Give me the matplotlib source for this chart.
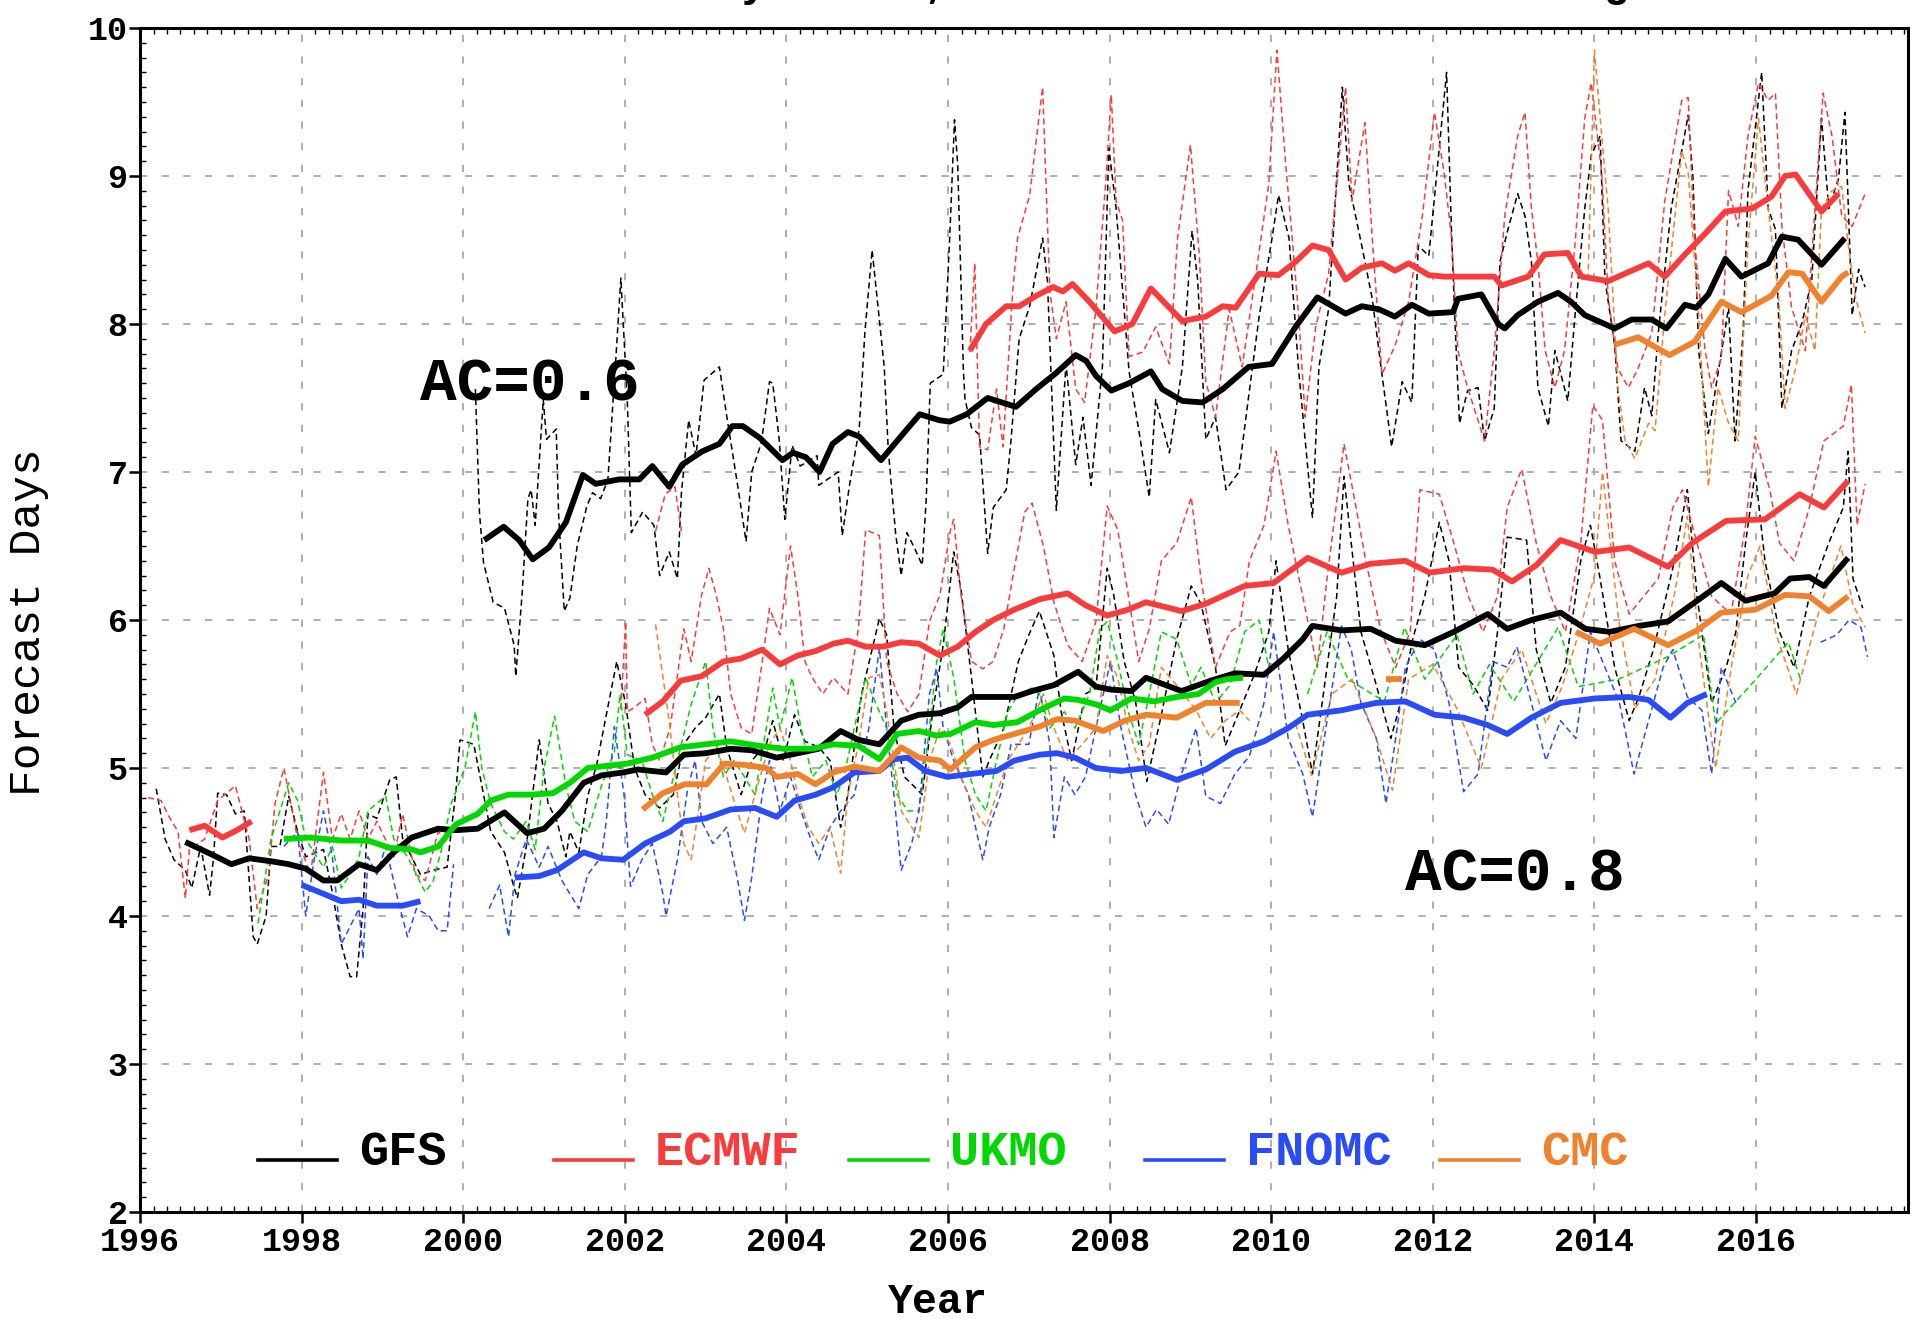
import matplotlib
matplotlib.use("Agg")
import matplotlib.pyplot as plt
from matplotlib.ticker import MultipleLocator

plt.rcParams["font.family"] = ["Liberation Mono", "DejaVu Sans"]

# ---- colours ----
C_GFS = "black"
C_EC = "#f83c3c"
C_UK = "#00d800"
C_FN = "#2a4cf8"
C_CMC = "#f0822d"

# ---- AC = 0.6, monthly (thin dashed) ----
gfs6_m = [(2000.15, 7.56), (2000.20, 6.73), (2000.25, 6.39), (2000.37, 6.12), (2000.51, 6.08), (2000.63, 5.83),
          (2000.65, 5.62), (2000.73, 6.19), (2000.80, 6.82), (2000.84, 6.88), (2000.89, 6.64), (2000.99, 7.49),
          (2001.03, 7.22), (2001.15, 7.29), (2001.18, 6.71), (2001.25, 6.06), (2001.32, 6.15), (2001.41, 6.50),
          (2001.53, 6.77), (2001.60, 6.86), (2001.70, 6.82), (2001.79, 6.95), (2001.89, 7.78), (2001.95, 8.31),
          (2002.03, 7.49), (2002.08, 6.59), (2002.22, 6.73), (2002.36, 6.64), (2002.43, 6.30), (2002.55, 6.46),
          (2002.65, 6.28), (2002.70, 6.86), (2002.79, 7.35), (2002.88, 7.11), (2002.98, 7.62), (2003.17, 7.71),
          (2003.26, 7.38), (2003.41, 6.86), (2003.50, 6.53), (2003.57, 7.00), (2003.69, 7.20), (2003.79, 7.61),
          (2003.83, 7.60), (2003.91, 7.22), (2003.98, 6.68), (2004.07, 7.18), (2004.17, 7.04), (2004.38, 7.11),
          (2004.40, 6.91), (2004.64, 7.00), (2004.69, 6.57), (2004.78, 6.91), (2004.90, 7.29), (2004.97, 7.94),
          (2005.06, 8.50), (2005.21, 7.71), (2005.26, 7.15), (2005.35, 6.59), (2005.42, 6.30), (2005.49, 6.59),
          (2005.59, 6.48), (2005.68, 6.37), (2005.73, 6.82), (2005.78, 7.60), (2005.94, 7.66), (2006.02, 8.58),
          (2006.08, 9.38), (2006.12, 9.07), (2006.19, 7.68), (2006.21, 7.49), (2006.29, 7.30), (2006.39, 7.25),
          (2006.49, 6.45), (2006.56, 6.76), (2006.72, 6.88), (2006.78, 7.22), (2006.88, 7.90), (2007.01, 8.12),
          (2007.17, 8.58), (2007.23, 8.29), (2007.34, 6.74), (2007.46, 7.73), (2007.58, 7.05), (2007.67, 7.37),
          (2007.77, 6.91), (2007.91, 7.71), (2007.99, 9.19), (2008.08, 8.78), (2008.24, 7.68), (2008.37, 7.25),
          (2008.49, 6.83), (2008.57, 7.49), (2008.74, 7.13), (2008.90, 7.71), (2009.02, 8.63), (2009.09, 8.29),
          (2009.19, 7.22), (2009.31, 7.37), (2009.44, 6.88), (2009.60, 7.00), (2009.72, 7.51), (2009.85, 8.05),
          (2010.01, 8.58), (2010.09, 8.87), (2010.22, 8.58), (2010.34, 7.68), (2010.51, 6.69), (2010.59, 7.71),
          (2010.71, 8.10), (2010.88, 9.60), (2010.96, 8.95), (2011.12, 8.53), (2011.25, 8.17), (2011.37, 7.66),
          (2011.49, 7.17), (2011.62, 7.61), (2011.74, 7.47), (2011.82, 8.53), (2011.95, 8.46), (2012.17, 9.70),
          (2012.23, 8.64), (2012.27, 8.06), (2012.33, 7.33), (2012.43, 7.55), (2012.56, 7.57), (2012.64, 7.21),
          (2012.76, 7.43), (2012.83, 8.42), (2012.93, 8.64), (2013.05, 8.88), (2013.14, 8.73), (2013.22, 8.42),
          (2013.30, 7.57), (2013.43, 7.31), (2013.51, 7.82), (2013.67, 7.48), (2013.76, 8.06), (2013.88, 8.78),
          (2013.96, 9.14), (2014.07, 9.27), (2014.13, 8.30), (2014.25, 7.86), (2014.33, 7.21), (2014.50, 7.14),
          (2014.62, 7.57), (2014.71, 7.38), (2014.79, 7.94), (2014.95, 8.78), (2015.16, 9.41), (2015.22, 8.98),
          (2015.29, 7.82), (2015.41, 7.26), (2015.53, 7.67), (2015.66, 8.11), (2015.74, 7.21), (2015.84, 7.94),
          (2015.90, 8.90), (2016.07, 9.70), (2016.15, 8.78), (2016.24, 8.64), (2016.32, 7.43), (2016.44, 7.82),
          (2016.57, 8.01), (2016.69, 8.30), (2016.81, 9.39), (2016.90, 8.78), (2017.02, 8.98), (2017.10, 9.43),
          (2017.19, 8.06), (2017.27, 8.37), (2017.35, 8.25)]

ec6_m_early = [(2002.38, 6.60), (2002.50, 6.85), (2002.62, 6.90), (2002.70, 6.60)]

ec6_m = [(2006.27, 7.81), (2006.33, 8.41), (2006.39, 7.17), (2006.49, 7.15), (2006.60, 7.56), (2006.68, 7.17),
         (2006.80, 8.22), (2006.86, 8.58), (2007.01, 8.87), (2007.17, 9.60), (2007.26, 8.22), (2007.34, 7.90),
         (2007.46, 8.15), (2007.58, 7.56), (2007.69, 7.47), (2007.83, 8.10), (2007.95, 8.95), (2008.02, 9.55),
         (2008.08, 8.83), (2008.16, 8.70), (2008.24, 7.78), (2008.41, 7.81), (2008.57, 7.98), (2008.74, 7.73),
         (2008.84, 8.58), (2009.00, 9.21), (2009.11, 8.46), (2009.19, 7.61), (2009.31, 7.37), (2009.48, 8.10),
         (2009.64, 7.71), (2009.81, 8.34), (2009.97, 8.95), (2010.07, 9.85), (2010.18, 9.07), (2010.26, 8.58),
         (2010.34, 8.05), (2010.42, 7.37), (2010.55, 7.98), (2010.71, 8.34), (2010.92, 9.60), (2011.00, 8.83),
         (2011.16, 9.36), (2011.25, 8.58), (2011.37, 7.66), (2011.53, 7.85), (2011.70, 8.15), (2011.87, 8.73),
         (2012.02, 9.43), (2012.14, 9.02), (2012.23, 8.59), (2012.31, 7.82), (2012.43, 7.57), (2012.64, 7.21),
         (2012.76, 7.82), (2012.89, 8.73), (2013.05, 9.27), (2013.14, 9.43), (2013.22, 8.78), (2013.30, 8.42),
         (2013.39, 7.82), (2013.51, 7.57), (2013.63, 7.82), (2013.76, 8.54), (2013.88, 9.39), (2013.96, 9.63),
         (2014.09, 9.02), (2014.17, 8.18), (2014.29, 7.70), (2014.42, 7.57), (2014.54, 7.70), (2014.71, 7.94),
         (2014.87, 8.83), (2015.08, 9.51), (2015.16, 9.53), (2015.24, 8.54), (2015.37, 7.82), (2015.45, 7.57),
         (2015.57, 7.77), (2015.66, 8.90), (2015.78, 8.66), (2015.90, 9.27), (2016.03, 9.63), (2016.15, 9.51),
         (2016.24, 9.56), (2016.32, 8.66), (2016.44, 8.11), (2016.61, 7.82), (2016.73, 8.78), (2016.83, 9.56),
         (2016.94, 9.27), (2017.06, 8.73), (2017.19, 8.66), (2017.35, 8.88)]

cmc6_m = [(2013.92, 8.30), (2014.00, 9.85), (2014.09, 9.27), (2014.17, 8.78), (2014.29, 7.57), (2014.38, 7.21),
          (2014.50, 7.09), (2014.67, 7.33), (2014.75, 7.28), (2014.87, 8.06), (2015.08, 9.17), (2015.16, 9.02),
          (2015.29, 8.06), (2015.41, 6.90), (2015.53, 7.57), (2015.66, 7.33), (2015.78, 7.21), (2015.90, 8.54),
          (2016.03, 9.39), (2016.15, 8.78), (2016.28, 8.18), (2016.36, 7.43), (2016.49, 7.70), (2016.61, 8.06),
          (2016.73, 7.82), (2016.81, 8.78), (2016.94, 8.90), (2017.06, 8.93), (2017.14, 8.54), (2017.23, 8.18),
          (2017.35, 7.94)]

# ---- AC = 0.6, running mean (thick) ----
gfs6_s = [(2000.26, 6.54), (2000.50, 6.63), (2000.69, 6.54), (2000.86, 6.41), (2001.06, 6.49), (2001.27, 6.66),
          (2001.48, 6.98), (2001.64, 6.92), (2001.93, 6.95), (2002.18, 6.95), (2002.34, 7.04), (2002.55, 6.90),
          (2002.71, 7.05), (2002.96, 7.14), (2003.17, 7.19), (2003.33, 7.31), (2003.46, 7.31), (2003.67, 7.23),
          (2003.95, 7.08), (2004.08, 7.13), (2004.24, 7.10), (2004.41, 7.00), (2004.57, 7.19), (2004.76, 7.27),
          (2004.90, 7.24), (2005.17, 7.08), (2005.40, 7.23), (2005.65, 7.39), (2005.89, 7.35), (2006.02, 7.34),
          (2006.23, 7.39), (2006.49, 7.50), (2006.84, 7.44), (2007.09, 7.56), (2007.34, 7.67), (2007.58, 7.79),
          (2007.71, 7.75), (2007.83, 7.65), (2008.02, 7.55), (2008.24, 7.60), (2008.51, 7.68), (2008.65, 7.56),
          (2008.90, 7.48), (2009.15, 7.47), (2009.40, 7.56), (2009.72, 7.71), (2010.01, 7.73), (2010.30, 7.98),
          (2010.57, 8.18), (2010.92, 8.07), (2011.12, 8.12), (2011.33, 8.10), (2011.53, 8.05), (2011.74, 8.13),
          (2011.95, 8.07), (2012.25, 8.08), (2012.31, 8.17), (2012.60, 8.20), (2012.81, 8.00), (2012.89, 7.97),
          (2013.05, 8.06), (2013.30, 8.15), (2013.55, 8.21), (2013.71, 8.15), (2013.88, 8.06), (2014.25, 7.97),
          (2014.46, 8.03), (2014.71, 8.03), (2014.89, 7.97), (2015.12, 8.13), (2015.26, 8.11), (2015.41, 8.20),
          (2015.62, 8.44), (2015.82, 8.32), (2016.15, 8.41), (2016.32, 8.59), (2016.52, 8.57), (2016.81, 8.40),
          (2017.10, 8.58)]

ec6_s = [(2006.27, 7.82), (2006.47, 8.00), (2006.72, 8.12), (2006.88, 8.12), (2007.09, 8.19), (2007.30, 8.25),
         (2007.42, 8.22), (2007.54, 8.27), (2007.75, 8.15), (2008.06, 7.95), (2008.28, 8.00), (2008.51, 8.24),
         (2008.90, 8.02), (2009.19, 8.05), (2009.40, 8.12), (2009.56, 8.11), (2009.85, 8.34), (2010.09, 8.33),
         (2010.30, 8.42), (2010.51, 8.53), (2010.71, 8.50), (2010.92, 8.30), (2011.12, 8.38), (2011.37, 8.41),
         (2011.53, 8.36), (2011.70, 8.41), (2011.95, 8.33), (2012.14, 8.32), (2012.43, 8.32), (2012.76, 8.32),
         (2012.85, 8.26), (2013.18, 8.32), (2013.38, 8.47), (2013.67, 8.48), (2013.84, 8.32), (2014.17, 8.29),
         (2014.46, 8.36), (2014.67, 8.41), (2014.87, 8.32), (2015.12, 8.47), (2015.37, 8.61), (2015.62, 8.76),
         (2015.95, 8.78), (2016.19, 8.86), (2016.36, 9.00), (2016.49, 9.01), (2016.81, 8.76), (2017.02, 8.88)]

cmc6_s = [(2014.25, 7.86), (2014.54, 7.91), (2014.93, 7.79), (2015.24, 7.88), (2015.57, 8.15), (2015.82, 8.08),
          (2016.19, 8.19), (2016.40, 8.35), (2016.57, 8.34), (2016.81, 8.15), (2017.06, 8.32), (2017.14, 8.35)]

# ---- AC = 0.8, monthly (thin dashed) ----
gfs8_m = [(1996.20, 4.86), (1996.31, 4.52), (1996.42, 4.38), (1996.56, 4.31), (1996.64, 4.19), (1996.75, 4.47),
          (1996.86, 4.14), (1996.91, 4.40), (1996.96, 4.83), (1997.07, 4.82), (1997.18, 4.69), (1997.29, 4.71),
          (1997.40, 3.86), (1997.45, 3.81), (1997.56, 4.00), (1997.62, 4.47), (1997.73, 4.47), (1997.84, 4.81),
          (1997.95, 4.57), (1998.05, 4.40), (1998.27, 4.45), (1998.38, 4.16), (1998.49, 3.81), (1998.60, 3.59),
          (1998.68, 3.59), (1998.76, 4.05), (1998.82, 4.69), (1998.93, 4.66), (1999.09, 4.92), (1999.17, 4.94),
          (1999.25, 4.52), (1999.36, 4.40), (1999.47, 4.28), (1999.63, 4.31), (1999.80, 4.33), (1999.91, 4.85),
          (1999.96, 5.19), (2000.13, 5.16), (2000.23, 4.88), (2000.34, 4.57), (2000.51, 4.43), (2000.62, 4.21),
          (2000.67, 4.12), (2000.78, 4.47), (2000.94, 5.19), (2001.05, 4.76), (2001.16, 4.64), (2001.27, 4.40),
          (2001.32, 4.57), (2001.43, 4.43), (2001.54, 4.81), (2001.65, 5.02), (2001.76, 5.33), (2001.90, 5.72),
          (2002.01, 5.43), (2002.12, 5.00), (2002.25, 4.82), (2002.43, 4.73), (2002.60, 4.82), (2002.73, 5.16),
          (2002.87, 5.27), (2003.00, 5.34), (2003.17, 5.50), (2003.26, 5.14), (2003.44, 4.82), (2003.57, 5.05),
          (2003.75, 5.16), (2003.83, 5.32), (2003.96, 5.05), (2004.10, 5.36), (2004.23, 5.18), (2004.40, 5.14),
          (2004.54, 5.05), (2004.67, 4.60), (2004.76, 4.82), (2004.93, 5.50), (2005.15, 6.01), (2005.24, 5.90),
          (2005.33, 5.27), (2005.46, 4.94), (2005.59, 4.87), (2005.68, 4.82), (2005.81, 5.38), (2005.94, 5.83),
          (2006.07, 6.46), (2006.16, 6.21), (2006.29, 5.61), (2006.43, 4.94), (2006.51, 5.05), (2006.69, 5.27),
          (2006.87, 5.72), (2007.00, 5.90), (2007.13, 6.06), (2007.31, 5.76), (2007.40, 5.38), (2007.53, 5.05),
          (2007.70, 5.50), (2007.83, 5.54), (2007.97, 6.35), (2008.05, 6.17), (2008.18, 5.72), (2008.32, 5.45),
          (2008.46, 4.91), (2008.64, 5.36), (2008.83, 5.87), (2009.01, 6.23), (2009.13, 6.11), (2009.31, 5.68),
          (2009.43, 5.15), (2009.61, 5.39), (2009.79, 5.63), (2009.97, 5.92), (2010.06, 6.40), (2010.21, 5.80),
          (2010.39, 5.32), (2010.51, 4.96), (2010.63, 5.44), (2010.81, 6.16), (2010.90, 6.97), (2010.99, 6.52),
          (2011.11, 5.92), (2011.30, 5.56), (2011.48, 5.20), (2011.60, 5.44), (2011.75, 5.87), (2011.90, 6.16),
          (2012.08, 6.66), (2012.20, 6.40), (2012.32, 5.68), (2012.50, 5.56), (2012.68, 5.39), (2012.80, 5.92),
          (2012.92, 6.56), (2013.16, 6.54), (2013.28, 5.80), (2013.46, 5.44), (2013.64, 5.68), (2013.83, 6.40),
          (2013.95, 6.64), (2014.07, 6.28), (2014.25, 5.68), (2014.43, 5.32), (2014.55, 5.48), (2014.73, 5.80),
          (2014.97, 6.35), (2015.15, 6.88), (2015.27, 6.16), (2015.45, 5.44), (2015.63, 5.68), (2015.75, 5.92),
          (2015.87, 6.52), (2015.99, 7.00), (2016.11, 6.40), (2016.29, 5.92), (2016.47, 5.68), (2016.66, 6.16),
          (2016.90, 6.52), (2017.08, 6.76), (2017.14, 7.14), (2017.20, 6.28), (2017.32, 6.08)]

ec8_m_early = [(1996.10, 4.80), (1996.26, 4.78), (1996.37, 4.66), (1996.47, 4.57), (1996.56, 4.12), (1996.61, 4.45),
               (1996.80, 4.52), (1996.96, 4.78), (1997.07, 4.83), (1997.18, 4.88), (1997.35, 4.52), (1997.45, 4.05),
               (1997.59, 4.28), (1997.67, 4.76), (1997.78, 5.00), (1997.95, 4.52), (1998.11, 4.28), (1998.27, 4.97),
               (1998.38, 4.52), (1998.49, 4.69), (1998.60, 4.52), (1998.71, 4.71), (1998.82, 4.52), (1998.93, 4.64),
               (1999.14, 4.40), (1999.25, 4.69), (1999.41, 4.28), (1999.53, 4.24), (1999.69, 4.57), (1999.80, 4.52)]

ec8_m = [(2001.95, 5.40), (2002.01, 5.99), (2002.03, 5.38), (2002.12, 5.41), (2002.25, 5.47), (2002.34, 5.16),
         (2002.43, 5.05), (2002.56, 5.27), (2002.73, 5.94), (2002.82, 5.72), (2002.95, 6.17), (2003.04, 6.35),
         (2003.13, 6.17), (2003.22, 5.94), (2003.31, 5.50), (2003.44, 5.27), (2003.57, 5.23), (2003.70, 5.72),
         (2003.79, 6.08), (2003.92, 5.90), (2004.05, 6.50), (2004.14, 6.17), (2004.23, 5.72), (2004.32, 5.61),
         (2004.45, 5.50), (2004.58, 5.61), (2004.76, 5.50), (2004.89, 5.94), (2004.98, 6.61), (2005.15, 6.57),
         (2005.24, 5.72), (2005.37, 5.50), (2005.50, 5.38), (2005.64, 5.50), (2005.77, 5.99), (2005.90, 6.17),
         (2006.03, 6.61), (2006.07, 6.68), (2006.16, 6.17), (2006.29, 5.72), (2006.43, 5.67), (2006.56, 5.72),
         (2006.69, 5.94), (2006.82, 6.35), (2006.95, 6.73), (2007.04, 6.79), (2007.18, 6.50), (2007.31, 6.12),
         (2007.48, 5.83), (2007.66, 5.72), (2007.83, 5.99), (2007.97, 6.77), (2008.10, 6.61), (2008.23, 6.17),
         (2008.36, 5.72), (2008.49, 5.94), (2008.64, 6.40), (2008.83, 6.52), (2009.01, 6.83), (2009.13, 6.28),
         (2009.31, 5.68), (2009.49, 5.92), (2009.61, 5.96), (2009.73, 6.40), (2009.91, 6.64), (2010.06, 7.14),
         (2010.21, 6.64), (2010.39, 6.16), (2010.57, 5.68), (2010.69, 6.28), (2010.90, 7.19), (2011.05, 6.76),
         (2011.17, 6.40), (2011.36, 5.92), (2011.54, 5.68), (2011.72, 5.92), (2011.84, 6.88), (2012.08, 6.85),
         (2012.26, 6.52), (2012.44, 6.16), (2012.62, 5.92), (2012.80, 6.16), (2012.92, 6.76), (2013.10, 7.02),
         (2013.28, 6.52), (2013.46, 6.16), (2013.64, 5.92), (2013.83, 6.52), (2013.98, 7.45), (2014.10, 7.35),
         (2014.25, 6.40), (2014.43, 6.04), (2014.61, 6.16), (2014.79, 6.28), (2014.97, 6.76), (2015.09, 6.88),
         (2015.27, 6.52), (2015.45, 6.16), (2015.69, 6.04), (2015.87, 6.64), (2015.99, 7.24), (2016.17, 6.88),
         (2016.29, 6.52), (2016.47, 6.40), (2016.66, 6.76), (2016.84, 7.21), (2017.08, 7.31), (2017.18, 7.59),
         (2017.25, 6.64), (2017.35, 6.92)]

uk8_m = [(1997.46, 3.95), (1997.62, 4.52), (1997.84, 4.90), (1997.95, 4.78), (1998.05, 4.52), (1998.27, 4.33),
         (1998.38, 4.47), (1998.49, 4.19), (1998.60, 4.28), (1998.71, 4.40), (1998.82, 4.71), (1998.93, 4.76),
         (1999.04, 4.81), (1999.14, 4.52), (1999.31, 4.40), (1999.42, 4.28), (1999.53, 4.16), (1999.63, 4.24),
         (1999.74, 4.47), (1999.85, 4.76), (2000.02, 5.00), (2000.15, 5.38), (2000.23, 5.00), (2000.34, 4.76),
         (2000.51, 4.57), (2000.62, 4.52), (2000.78, 4.64), (2000.89, 4.45), (2001.00, 5.00), (2001.13, 5.35),
         (2001.27, 4.88), (2001.38, 4.64), (2001.54, 4.57), (2001.71, 4.88), (2001.87, 5.11), (2001.94, 5.50),
         (2002.03, 5.09), (2002.21, 5.05), (2002.34, 4.82), (2002.47, 4.64), (2002.65, 5.05), (2002.82, 5.43),
         (2003.00, 5.72), (2003.09, 5.27), (2003.22, 4.94), (2003.35, 5.05), (2003.48, 4.94), (2003.61, 4.82),
         (2003.75, 5.27), (2003.83, 5.54), (2003.92, 5.27), (2004.07, 5.61), (2004.18, 5.27), (2004.32, 4.94),
         (2004.49, 5.05), (2004.62, 4.82), (2004.71, 4.94), (2004.84, 5.27), (2004.98, 5.61), (2005.11, 5.43),
         (2005.24, 5.27), (2005.37, 4.82), (2005.50, 4.71), (2005.64, 4.71), (2005.77, 5.27), (2005.86, 5.72),
         (2005.94, 5.94), (2006.07, 5.61), (2006.21, 5.05), (2006.34, 4.82), (2006.47, 4.71), (2006.60, 5.05),
         (2006.74, 5.38), (2006.87, 5.50), (2007.04, 5.54), (2007.13, 5.50), (2007.26, 5.27), (2007.44, 5.38),
         (2007.57, 5.27), (2007.75, 5.50), (2007.88, 5.94), (2007.97, 5.99), (2008.10, 5.72), (2008.23, 5.38),
         (2008.36, 5.16), (2008.49, 5.50), (2008.64, 5.92), (2008.83, 5.87), (2009.01, 5.56), (2009.13, 5.68),
         (2009.31, 5.44), (2009.49, 5.56), (2009.67, 5.92), (2009.85, 6.00), (2009.97, 5.68)]

uk8_m_late = [(2010.45, 5.50), (2010.69, 5.92), (2010.95, 5.60), (2011.40, 5.45), (2011.65, 5.95), (2011.90, 5.60),
              (2012.30, 5.90), (2012.50, 5.50), (2012.70, 5.70), (2013.00, 5.45), (2013.55, 5.95), (2013.80, 5.55),
              (2014.30, 5.60), (2014.90, 5.75), (2015.35, 5.90), (2015.50, 5.30), (2016.00, 5.60), (2016.40, 5.85),
              (2016.55, 5.60)]

fn8_m_early = [(1997.78, 4.47), (1997.95, 4.57), (1998.05, 4.00), (1998.16, 4.40), (1998.27, 4.71), (1998.38, 4.40),
               (1998.49, 3.81), (1998.60, 3.93), (1998.71, 4.05), (1998.76, 3.71), (1998.82, 4.40), (1998.93, 4.28),
               (1999.04, 4.47), (1999.20, 4.09), (1999.31, 3.86), (1999.42, 4.05), (1999.58, 4.00), (1999.69, 3.90),
               (1999.80, 3.90), (1999.88, 4.35)]

fn8_m = [(2000.32, 4.05), (2000.45, 4.21), (2000.56, 3.86), (2000.64, 4.28), (2000.78, 4.52), (2000.94, 4.33),
         (2001.05, 4.47), (2001.22, 4.24), (2001.43, 4.05), (2001.54, 4.28), (2001.71, 4.40), (2001.77, 4.64),
         (2001.87, 5.28), (2001.99, 4.82), (2002.07, 4.20), (2002.21, 4.38), (2002.34, 4.49), (2002.47, 4.15),
         (2002.51, 4.00), (2002.65, 4.38), (2002.78, 4.87), (2002.87, 5.05), (2002.95, 4.64), (2003.09, 4.49),
         (2003.26, 4.60), (2003.39, 4.26), (2003.48, 3.97), (2003.57, 4.26), (2003.70, 4.82), (2003.79, 5.05),
         (2003.92, 4.71), (2004.05, 4.94), (2004.18, 4.71), (2004.32, 4.49), (2004.40, 4.38), (2004.54, 4.60),
         (2004.67, 4.71), (2004.84, 4.82), (2005.02, 5.27), (2005.15, 5.81), (2005.24, 5.27), (2005.33, 4.82),
         (2005.42, 4.31), (2005.55, 4.49), (2005.64, 4.71), (2005.77, 5.50), (2005.86, 5.67), (2005.94, 5.27),
         (2006.07, 5.05), (2006.25, 4.82), (2006.43, 4.38), (2006.51, 4.60), (2006.65, 4.82), (2006.78, 5.16),
         (2007.00, 5.16), (2007.13, 5.54), (2007.26, 5.16), (2007.31, 4.53), (2007.44, 4.94), (2007.57, 4.82),
         (2007.70, 4.94), (2007.83, 5.27), (2008.01, 5.72), (2008.14, 5.27), (2008.32, 4.82), (2008.45, 4.60),
         (2008.58, 4.72), (2008.73, 4.62), (2008.89, 4.96), (2009.07, 5.27), (2009.19, 4.81), (2009.37, 4.76),
         (2009.55, 4.96), (2009.73, 5.08), (2009.91, 5.44), (2010.03, 5.92), (2010.21, 5.20), (2010.39, 4.96),
         (2010.51, 4.67), (2010.69, 5.32), (2010.87, 5.96), (2010.99, 5.80), (2011.11, 5.44), (2011.30, 5.20),
         (2011.42, 4.76), (2011.54, 5.20), (2011.66, 5.68), (2011.84, 5.87), (2012.02, 5.80), (2012.20, 5.44),
         (2012.38, 4.84), (2012.56, 4.96), (2012.74, 5.72), (2012.92, 5.68), (2013.04, 5.82), (2013.22, 5.44),
         (2013.40, 5.05), (2013.58, 5.32), (2013.77, 5.20), (2013.95, 5.92), (2014.13, 5.68), (2014.31, 5.44),
         (2014.49, 4.96), (2014.67, 5.32), (2014.85, 5.68), (2014.97, 5.80), (2015.15, 5.48), (2015.33, 5.39),
         (2015.45, 4.96), (2015.57, 5.68), (2015.75, 5.44)]

fn8_m_late = [(2016.80, 5.85), (2017.00, 5.90), (2017.15, 6.00), (2017.30, 5.95), (2017.38, 5.75)]

cmc8_m = [(2002.38, 5.97), (2002.56, 5.27), (2002.65, 4.82), (2002.73, 4.49), (2002.82, 4.38), (2002.91, 4.71),
          (2003.00, 5.05), (2003.13, 5.14), (2003.26, 4.94), (2003.39, 4.71), (2003.48, 4.56), (2003.61, 4.82),
          (2003.79, 5.16), (2003.92, 5.27), (2004.05, 5.05), (2004.14, 4.82), (2004.27, 4.60), (2004.40, 4.49),
          (2004.54, 4.60), (2004.67, 4.29), (2004.76, 4.82), (2004.89, 5.16), (2005.02, 5.61), (2005.15, 5.63),
          (2005.24, 5.38), (2005.33, 5.05), (2005.42, 4.71), (2005.55, 4.60), (2005.64, 4.53), (2005.77, 5.05),
          (2005.90, 5.27), (2006.03, 5.16), (2006.16, 4.94), (2006.34, 4.71), (2006.47, 4.60), (2006.60, 4.82),
          (2006.74, 5.05), (2006.87, 5.16), (2007.00, 5.27), (2007.18, 5.50), (2007.31, 5.27), (2007.48, 5.05),
          (2007.66, 5.16), (2007.83, 5.27), (2007.97, 5.76), (2008.10, 5.61), (2008.23, 5.27), (2008.36, 5.05),
          (2008.49, 5.16), (2008.64, 5.68), (2008.83, 5.56), (2009.07, 5.39), (2009.25, 5.20), (2009.43, 5.32),
          (2009.61, 5.39), (2009.73, 5.32)]

cmc8_m_late = [(2010.30, 5.30), (2010.50, 4.95), (2010.75, 5.50), (2011.00, 5.60), (2011.30, 5.20), (2011.50, 4.85),
               (2011.70, 5.60), (2012.00, 5.70), (2012.30, 5.40), (2012.60, 5.00), (2012.85, 5.60), (2013.10, 5.80),
               (2013.40, 5.30), (2013.60, 5.55), (2013.80, 5.90), (2014.00, 6.30), (2014.10, 7.00), (2014.30, 6.00),
               (2014.50, 5.40), (2014.75, 5.60), (2015.00, 6.20), (2015.15, 6.70), (2015.30, 5.80), (2015.50, 5.00),
               (2015.70, 5.70), (2015.90, 6.30), (2016.05, 6.50), (2016.25, 5.90), (2016.50, 5.50), (2016.80, 6.10),
               (2017.05, 6.50), (2017.20, 6.10), (2017.35, 5.95)]

# ---- AC = 0.8, running mean (thick) ----
gfs8_s = [(1996.56, 4.50), (1996.91, 4.41), (1997.13, 4.35), (1997.35, 4.39), (1997.62, 4.37), (1997.84, 4.35),
          (1998.05, 4.32), (1998.27, 4.24), (1998.44, 4.24), (1998.71, 4.35), (1998.93, 4.31), (1999.14, 4.43),
          (1999.36, 4.53), (1999.69, 4.59), (1999.91, 4.58), (2000.18, 4.59), (2000.51, 4.70), (2000.79, 4.56),
          (2001.00, 4.59), (2001.22, 4.71), (2001.49, 4.90), (2001.71, 4.95), (2001.98, 4.97), (2002.16, 4.99),
          (2002.51, 4.97), (2002.73, 5.09), (2003.00, 5.10), (2003.31, 5.13), (2003.57, 5.12), (2003.88, 5.07),
          (2004.14, 5.10), (2004.40, 5.13), (2004.67, 5.25), (2004.89, 5.19), (2005.15, 5.16), (2005.42, 5.32),
          (2005.64, 5.36), (2005.90, 5.37), (2006.12, 5.41), (2006.29, 5.48), (2006.51, 5.48), (2006.82, 5.48),
          (2007.04, 5.52), (2007.31, 5.56), (2007.61, 5.65), (2007.83, 5.55), (2008.01, 5.53), (2008.27, 5.52),
          (2008.45, 5.61), (2008.89, 5.52), (2009.25, 5.59), (2009.55, 5.64), (2009.91, 5.63), (2010.15, 5.74),
          (2010.39, 5.87), (2010.51, 5.96), (2010.87, 5.93), (2011.23, 5.94), (2011.54, 5.86), (2011.90, 5.83),
          (2012.26, 5.92), (2012.68, 6.04), (2012.92, 5.94), (2013.22, 6.00), (2013.58, 6.05), (2013.89, 5.94),
          (2014.19, 5.92), (2014.55, 5.96), (2014.91, 5.99), (2015.27, 6.13), (2015.57, 6.25), (2015.87, 6.13),
          (2016.23, 6.18), (2016.42, 6.28), (2016.66, 6.29), (2016.84, 6.23), (2017.14, 6.42)]

ec8_s_early = [(1996.61, 4.58), (1996.80, 4.61), (1997.02, 4.53), (1997.20, 4.58), (1997.38, 4.64)]

ec8_s = [(2002.25, 5.36), (2002.47, 5.45), (2002.69, 5.59), (2002.95, 5.62), (2003.22, 5.72), (2003.44, 5.74),
         (2003.70, 5.80), (2003.92, 5.70), (2004.14, 5.76), (2004.36, 5.79), (2004.58, 5.84), (2004.76, 5.86),
         (2004.98, 5.82), (2005.20, 5.82), (2005.42, 5.85), (2005.64, 5.84), (2005.90, 5.76), (2006.12, 5.82),
         (2006.34, 5.92), (2006.56, 6.00), (2006.82, 6.07), (2007.13, 6.14), (2007.48, 6.18), (2007.70, 6.10),
         (2007.97, 6.03), (2008.23, 6.07), (2008.45, 6.12), (2008.89, 6.06), (2009.19, 6.11), (2009.67, 6.23),
         (2010.03, 6.25), (2010.45, 6.42), (2010.87, 6.32), (2011.23, 6.38), (2011.66, 6.40), (2011.96, 6.32),
         (2012.38, 6.35), (2012.74, 6.34), (2012.98, 6.26), (2013.28, 6.37), (2013.58, 6.54), (2014.01, 6.46),
         (2014.43, 6.49), (2014.91, 6.36), (2015.21, 6.52), (2015.63, 6.67), (2016.11, 6.68), (2016.54, 6.85),
         (2016.84, 6.76), (2017.14, 6.94)]

uk8_s = [(1997.78, 4.52), (1998.11, 4.53), (1998.49, 4.51), (1998.82, 4.51), (1999.09, 4.46), (1999.36, 4.45),
         (1999.47, 4.43), (1999.69, 4.47), (1999.91, 4.62), (2000.18, 4.69), (2000.34, 4.78), (2000.56, 4.82),
         (2000.83, 4.82), (2001.11, 4.83), (2001.32, 4.90), (2001.54, 5.00), (2001.87, 5.02), (2002.03, 5.03),
         (2002.34, 5.07), (2002.69, 5.14), (2003.00, 5.16), (2003.31, 5.18), (2003.66, 5.15), (2003.96, 5.13),
         (2004.32, 5.13), (2004.58, 5.16), (2004.89, 5.15), (2005.15, 5.06), (2005.37, 5.23), (2005.64, 5.25),
         (2005.85, 5.22), (2006.03, 5.23), (2006.34, 5.31), (2006.56, 5.29), (2006.86, 5.31), (2007.13, 5.39),
         (2007.44, 5.47), (2007.61, 5.46), (2007.83, 5.43), (2008.01, 5.39), (2008.27, 5.47), (2008.55, 5.45),
         (2008.83, 5.48), (2009.10, 5.50), (2009.31, 5.58), (2009.45, 5.60), (2009.65, 5.61)]

fn8_s_early = [(1998.00, 4.21), (1998.27, 4.15), (1998.49, 4.10), (1998.71, 4.11), (1998.93, 4.07), (1999.25, 4.07),
               (1999.47, 4.10)]

fn8_s = [(2000.64, 4.26), (2000.94, 4.27), (2001.16, 4.31), (2001.49, 4.43), (2001.71, 4.39), (2001.98, 4.38),
         (2002.25, 4.49), (2002.56, 4.57), (2002.73, 4.64), (2003.00, 4.66), (2003.31, 4.72), (2003.61, 4.73),
         (2003.88, 4.67), (2004.10, 4.78), (2004.36, 4.82), (2004.58, 4.87), (2004.84, 4.97), (2005.15, 4.98),
         (2005.33, 5.06), (2005.50, 5.07), (2005.72, 4.98), (2005.99, 4.94), (2006.29, 4.96), (2006.60, 4.98),
         (2006.82, 5.05), (2007.13, 5.09), (2007.35, 5.10), (2007.57, 5.07), (2007.83, 5.00), (2008.14, 4.98),
         (2008.45, 5.00), (2008.83, 4.92), (2009.19, 4.99), (2009.55, 5.11), (2009.91, 5.18), (2010.21, 5.27),
         (2010.45, 5.36), (2010.87, 5.39), (2011.30, 5.44), (2011.66, 5.45), (2012.02, 5.36), (2012.38, 5.34),
         (2012.68, 5.29), (2012.92, 5.23), (2013.22, 5.34), (2013.58, 5.44), (2014.01, 5.47), (2014.43, 5.48),
         (2014.67, 5.46), (2014.94, 5.34), (2015.15, 5.44), (2015.39, 5.50)]

cmc8_s = [(2002.22, 4.72), (2002.47, 4.83), (2002.74, 4.89), (2003.01, 4.89), (2003.23, 5.03), (2003.50, 5.02),
          (2003.75, 5.00), (2003.88, 4.94), (2004.14, 4.96), (2004.36, 4.89), (2004.58, 4.97), (2004.84, 5.01),
          (2005.15, 4.98), (2005.42, 5.14), (2005.64, 5.07), (2005.90, 5.05), (2006.03, 4.99), (2006.34, 5.14),
          (2006.56, 5.19), (2006.82, 5.23), (2007.13, 5.28), (2007.35, 5.33), (2007.57, 5.32), (2007.92, 5.25),
          (2008.19, 5.32), (2008.45, 5.36), (2008.83, 5.34), (2009.19, 5.44), (2009.61, 5.44)]

cmc8_s_mid = [(2011.42, 5.60), (2011.62, 5.60)]

cmc8_s_late = [(2013.77, 5.92), (2014.07, 5.84), (2014.49, 5.94), (2014.91, 5.83), (2015.27, 5.93), (2015.57, 6.05),
               (2015.99, 6.07), (2016.36, 6.17), (2016.66, 6.16), (2016.90, 6.06), (2017.14, 6.16)]

models = ["GFS", "ECMWF", "UKMO", "FNOMC", "CMC"]
model_colors = [C_GFS, C_EC, C_UK, C_FN, C_CMC]

thin_series = [
    (gfs6_m, C_GFS), (ec6_m_early, C_EC), (ec6_m, C_EC), (cmc6_m, C_CMC),
    (gfs8_m, C_GFS), (ec8_m_early, C_EC), (ec8_m, C_EC),
    (uk8_m, C_UK), (uk8_m_late, C_UK),
    (fn8_m_early, C_FN), (fn8_m, C_FN), (fn8_m_late, C_FN),
    (cmc8_m, C_CMC), (cmc8_m_late, C_CMC),
]
thick_series = [
    (gfs6_s, C_GFS), (gfs8_s, C_GFS),
    (ec6_s, C_EC), (ec8_s_early, C_EC), (ec8_s, C_EC),
    (uk8_s, C_UK),
    (fn8_s_early, C_FN), (fn8_s, C_FN),
    (cmc6_s, C_CMC), (cmc8_s, C_CMC), (cmc8_s_mid, C_CMC), (cmc8_s_late, C_CMC),
]

fig = plt.figure(figsize=(19.11, 13.19), dpi=100)
ax = fig.add_axes([0.0733, 0.0811, 0.9251, 0.8977])

for pts, col in thin_series:
    xs, ys = zip(*pts)
    ax.plot(xs, ys, color=col, lw=1.1, ls=(0, (4, 2.5)), zorder=2)

for pts, col in thick_series:
    xs, ys = zip(*pts)
    ax.plot(xs, ys, color=col, lw=4.2, solid_capstyle="butt", zorder=3)

ax.set_xlim(1996, 2017.88)
ax.set_ylim(2, 10)
ax.xaxis.set_major_locator(MultipleLocator(2))
ax.xaxis.set_minor_locator(MultipleLocator(1 / 6))
ax.yaxis.set_major_locator(MultipleLocator(1))
ax.yaxis.set_minor_locator(MultipleLocator(0.1))
ax.grid(True, which="major", color="#a8a8a8", lw=1.3, ls=(0, (4, 8)), zorder=1)

ax.tick_params(which="major", direction="out", length=8, width=1.8, pad=3,
               labelsize=24, top=False, right=False)
ax.tick_params(which="minor", direction="in", length=4, width=1.0,
               top=True, bottom=True, left=True, right=False)
ax.tick_params(axis="y", which="major", pad=1)
for lab in ax.get_xticklabels() + ax.get_yticklabels():
    lab.set_fontweight("bold")
for sp in ax.spines.values():
    sp.set_linewidth(2.2)

# AC labels
ax.text(1999.47, 7.59, "AC=0.6", fontsize=44, fontweight="bold", va="center", ha="left", zorder=5)
ax.text(2011.66, 4.28, "AC=0.8", fontsize=44, fontweight="bold", va="center", ha="left", zorder=5)

# legend row
for i, (name, col) in enumerate(zip(models, model_colors)):
    x0 = 0.0667 + i * 0.1672
    ax.plot([x0, x0 + 0.0447], [0.0439, 0.0439], color=col, lw=2.6, transform=ax.transAxes, clip_on=False)
    ax.text(x0 + 0.0572, 0.040, name, color=col, fontsize=35, fontweight="bold",
            va="baseline", ha="left", transform=ax.transAxes)

fig.text(0.015, 0.528, "Forecast Days", rotation=90, fontsize=32, va="center", ha="center")
fig.text(0.491, 0.013, "Year", fontsize=30, fontweight="bold", va="center", ha="center")

# title sits above the canvas edge; only its descenders show
fig.text(0.1282, 1.003, "NH 500mb HGT Anomaly Score, 12-Mon Mean Forecast Range",
         fontsize=31.4, fontweight="bold", va="baseline", ha="left")

fig.savefig("out.png", dpi=100)
